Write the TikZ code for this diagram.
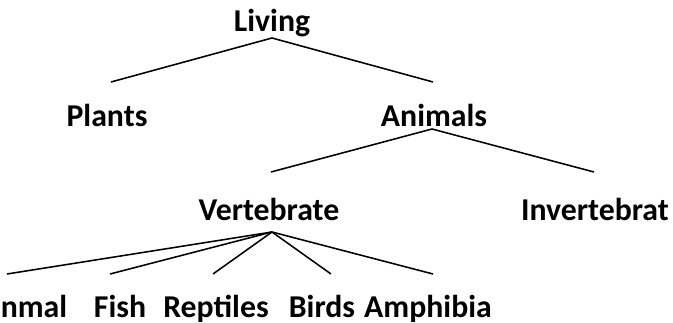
\documentclass[tikz,border=0pt]{standalone}
\usepackage{fontspec}
\setmainfont{Carlito}
\usepackage{tikz}
\usetikzlibrary{positioning}
\tikzset{
  termnode/.style={anchor=base, inner sep=0pt, font=\fontsize{22.6}{27}\selectfont\bfseries},
  branch/.style={line width=1.1pt, black},
}

\begin{document}
\begin{tikzpicture}[x=0.025cm, y=-0.025cm]
  \useasboundingbox (0,0) rectangle (673,323);
  \clip (0,0) rectangle (673,323);

  % terms
  \node[termnode] (living) at (272, 31) {Living};
  \node[termnode] (plants) at (107, 126) {Plants};
  \node[termnode] (animals) at (434, 126) {Animals};
  \node[termnode] (vert) at (269, 220) {Vertebrate};
  \node[termnode] (invert) at (595, 220) {Invertebrat};
  \node[termnode, anchor=base west] (mammal) at (0.5, 317) {nmal};
  \node[termnode] (fish) at (120, 317) {Fish};
  \node[termnode] (reptiles) at (216, 317) {Reptiles};
  \node[termnode] (birds) at (322, 317) {Birds};
  \node[termnode] (amphibia) at (428, 317) {Amphibia};

  % branch points
  \coordinate (living-tip) at (272, 38);
  \coordinate (plants-end) at (111, 82);
  \coordinate (animals-end) at (433, 82);
  \coordinate (animals-tip) at (432, 129);
  \coordinate (vert-end) at (271, 172);
  \coordinate (invert-end) at (594, 172);
  \coordinate (vert-tip) at (272, 232);
  \coordinate (mammal-end) at (7, 274);
  \coordinate (fish-end) at (110, 274);
  \coordinate (reptiles-end) at (213, 274);
  \coordinate (birds-end) at (331, 274);
  \coordinate (amphibia-end) at (433, 274);

  \draw[branch] (plants-end) -- (living-tip) -- (animals-end);
  \draw[branch] (vert-end) -- (animals-tip) -- (invert-end);
  \foreach \leaf in {mammal, fish, reptiles, birds, amphibia}
    \draw[branch] (vert-tip) -- (\leaf-end);
\end{tikzpicture}
\end{document}
